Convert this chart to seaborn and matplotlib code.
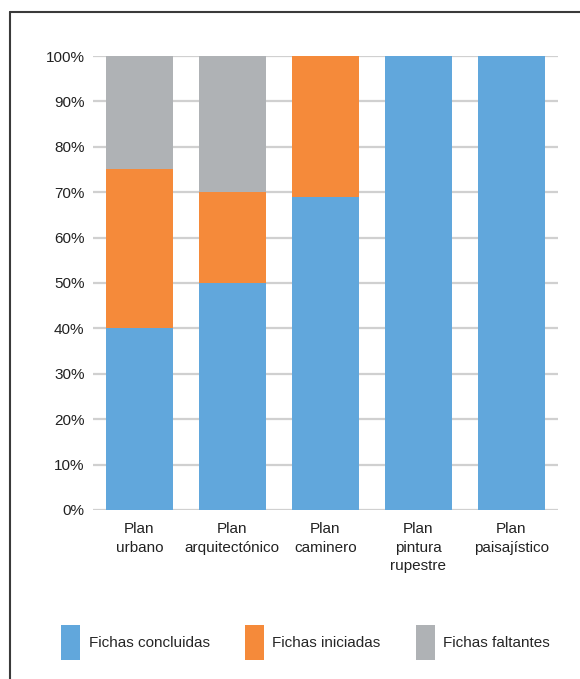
import matplotlib
matplotlib.use("Agg")
import matplotlib.pyplot as plt
from matplotlib.lines import Line2D
from matplotlib.patches import Patch
import pandas as pd
import seaborn as sns

categories = ['Plan\nurbano', 'Plan\narquitectónico', 'Plan\ncaminero',
              'Plan\npintura\nrupestre', 'Plan\npaisajístico']
concluidas = [40, 50, 69, 100, 100]
iniciadas = [35, 20, 31, 0, 0]
faltantes = [25, 30, 0, 0, 0]
series_names = ['Fichas concluidas', 'Fichas iniciadas', 'Fichas faltantes']
colors = ['#61A7DC', '#F58A3A', '#AFB2B5']

df = pd.DataFrame({
    'plan': categories,
    'concluidas': concluidas,
    'iniciadas': iniciadas,
    'faltantes': faltantes,
})
# cumulative tops for stacking
df['top_conc'] = df['concluidas']
df['top_ini'] = df['concluidas'] + df['iniciadas']
df['top_falt'] = df['top_ini'] + df['faltantes']

sns.set_theme(style='white')
plt.rcParams['font.family'] = ['Liberation Sans', 'DejaVu Sans']
plt.rcParams['font.size'] = 11

fig = plt.figure(figsize=(5.8, 6.79), dpi=100)
ax = fig.add_axes([0.160, 0.249, 0.802, 0.6685])

# draw from the top layer down so the lower layers cover it
for col, c in zip(['top_falt', 'top_ini', 'top_conc'], colors[::-1]):
    sns.barplot(data=df, x='plan', y=col, color=c, width=0.72,
                saturation=1, linewidth=0, ax=ax, zorder=3)

ax.set_ylim(0, 100)
ax.set_xlim(-0.5, 4.5)
ax.set_yticks(range(0, 101, 10))
ax.set_yticklabels([f'{v}%' for v in range(0, 101, 10)], color='#222222')
ax.set_xlabel('')
ax.set_ylabel('')
ax.yaxis.grid(True, color='#D0D0D0', linewidth=1.6, zorder=0)
ax.set_axisbelow(True)
for s in ax.spines.values():
    s.set_visible(False)
ax.tick_params(axis='x', length=0, pad=9, colors='#222222')
ax.tick_params(axis='y', length=0, pad=6)
for t in ax.get_xticklabels():
    t.set_linespacing(1.4)
    t.set_verticalalignment('top')

handles = [Patch(facecolor=c, edgecolor='none') for c in colors]
fig.legend(handles, series_names, loc='center', bbox_to_anchor=(0.527, 0.054),
           ncol=3, frameon=False, handlelength=1.25, handleheight=3.2,
           handletextpad=0.55, columnspacing=2.3, fontsize=11)

# outer frame (left and top edges)
fig.add_artist(Line2D([0.0172, 0.0172], [0, 0.982], transform=fig.transFigure,
                      color='#3a3a3a', linewidth=1.5))
fig.add_artist(Line2D([0.0172, 1.0], [0.982, 0.982], transform=fig.transFigure,
                      color='#3a3a3a', linewidth=1.5))

fig.savefig('out.png', dpi=100)
